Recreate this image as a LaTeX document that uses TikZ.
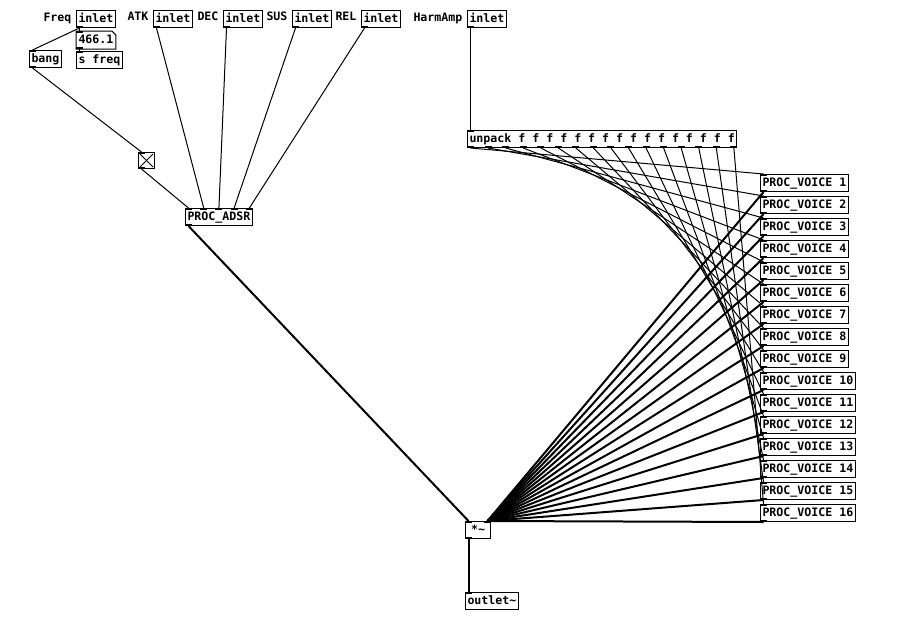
\documentclass[tikz,border=0pt]{standalone}
\usepackage{fontspec}
\newfontfamily\pdfont{DejaVu Sans Mono}[UprightFont=*-Bold]
\usetikzlibrary{calc}

\tikzset{
	obj/.style={draw, line width=1pt, anchor=north west, inner xsep=2pt, inner ysep=0pt, minimum height=17pt,
		text height=8.5pt, text depth=2.5pt, font=\pdfont\fontsize{11.6pt}{12pt}\selectfont},
	lbl/.style={obj, draw=none},
	msg/.style={line width=1pt},
	sig/.style={line width=2pt},
}

% inlet / outlet tabs, with named coordinates (node-i1, node-o1, ...)
\newcommand{\pdin}[2]{%
	\edef\pdname{#1}%
	\foreach \pdk in {1,...,#2}{%
		\pgfmathsetmacro\pdfrac{(\pdk-1)/max(#2-1,1)}%
		\pgfmathsetmacro\pdoff{3.5-7*\pdfrac}%
		\coordinate (\pdname-i\pdk) at ($(\pdname.north west)!\pdfrac!(\pdname.north east)+(\pdoff,0)$);
		\fill ($(\pdname-i\pdk)+(-3.5,0)$) rectangle ++(7,2);
	}}
\newcommand{\pdout}[2]{%
	\edef\pdname{#1}%
	\foreach \pdk in {1,...,#2}{%
		\pgfmathsetmacro\pdfrac{(\pdk-1)/max(#2-1,1)}%
		\pgfmathsetmacro\pdoff{3.5-7*\pdfrac}%
		\coordinate (\pdname-o\pdk) at ($(\pdname.south west)!\pdfrac!(\pdname.south east)+(\pdoff,0)$);
		\fill ($(\pdname-o\pdk)+(-3.5,0)$) rectangle ++(7,-2);
	}}

\begin{document}
\begin{tikzpicture}[x=1pt, y=-1pt]
	\useasboundingbox (0,0) rectangle (903,630);
	
	% comments
	\node[lbl] (freqL) at (41,9) {Freq};
	\node[lbl] (atkL) at (125,8) {ATK};
	\node[lbl] (decL) at (195,8) {DEC};
	\node[lbl] (susL) at (264,8) {SUS};
	\node[lbl] (relL) at (333,8) {REL};
	\node[lbl] (harmL) at (411,9) {HarmAmp};
	
	% inlets
	\node[obj] (freqIn) at (76,10) {inlet};
	\node[obj] (atkIn) at (153,10) {inlet};
	\node[obj] (decIn) at (223,10) {inlet};
	\node[obj] (susIn) at (292,10) {inlet};
	\node[obj] (relIn) at (361,10) {inlet};
	\node[obj] (harmIn) at (467,10) {inlet};
	
	% freq part
	\node[obj, draw=none, minimum width=37pt] (num) at (76,31) {466.1};
	\draw[line width=1pt] (num.north west) -- ($(num.north east)+(-4,0)$) -- ($(num.north east)+(0,4)$) -- (num.south east) -- (num.south west) -- cycle;
	\node[obj] (sfreq) at (76,51) {s freq};
	\node[obj] (bang) at (29,50) {bang};
	\node[obj, minimum width=16pt, minimum height=16pt, inner sep=0pt, text height=0pt, text depth=0pt] (tgl) at (138,152) {};
	\draw[line width=0.8pt] ($(tgl.north west)+(2,2)$) -- ($(tgl.south east)+(-2,-2)$);
	\draw[line width=0.8pt] ($(tgl.north east)+(-2,2)$) -- ($(tgl.south west)+(2,-2)$);
	\node[obj] (adsr) at (185,208) {PROC\_ADSR};
	
	% voices
	\node[obj] (unpack) at (467,130) {unpack f f f f f f f f f f f f f f f f};
	\foreach \k in {1,...,16}
		\node[obj] (voice\k) at (760,{174+22*(\k-1)}) {PROC\_VOICE \k};
	
	\node[obj, minimum width=25pt] (mul) at (465,521) {*\char`~};
	\node[obj] (outlet) at (465,592) {outlet\char`~};
	
	% tabs
	\pdout{freqIn}{1} \pdout{atkIn}{1} \pdout{decIn}{1} \pdout{susIn}{1} \pdout{relIn}{1} \pdout{harmIn}{1}
	\pdin{num}{1} \pdout{num}{1}
	\pdin{sfreq}{1}
	\pdin{bang}{1} \pdout{bang}{1}
	\pdin{tgl}{1} \pdout{tgl}{1}
	\pdin{adsr}{5} \pdout{adsr}{1}
	\pdin{unpack}{1} \pdout{unpack}{16}
	\foreach \k in {1,...,16}{\pdin{voice\k}{1} \pdout{voice\k}{1}}
	\pdin{mul}{2} \pdout{mul}{1}
	\pdin{outlet}{1}
	
	% connections
	\draw[msg] (freqIn-o1) -- (num-i1);
	\draw[msg] (freqIn-o1) -- (bang-i1);
	\draw[msg] (num-o1) -- (sfreq-i1);
	\draw[msg] (bang-o1) -- (tgl-i1);
	\draw[msg] (tgl-o1) -- (adsr-i1);
	\draw[msg] (atkIn-o1) -- (adsr-i2);
	\draw[msg] (decIn-o1) -- (adsr-i3);
	\draw[msg] (susIn-o1) -- (adsr-i4);
	\draw[msg] (relIn-o1) -- (adsr-i5);
	\draw[msg] (harmIn-o1) -- (unpack-i1);
	\foreach \k in {1,...,16}{
		\draw[msg] (unpack-o\k) -- (voice\k-i1);
		\draw[sig] (voice\k-o1) -- (mul-i2);
	}
	\draw[sig] (adsr-o1) -- (mul-i1);
	\draw[sig] (mul-o1) -- (outlet-i1);
\end{tikzpicture}
\end{document}
